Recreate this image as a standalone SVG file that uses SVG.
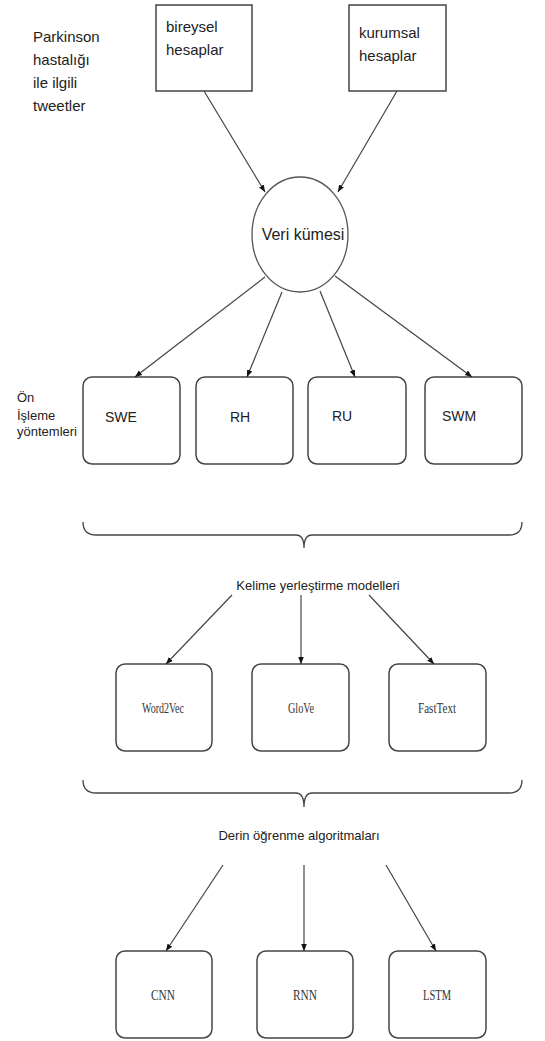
<svg xmlns="http://www.w3.org/2000/svg" width="545" height="1041" viewBox="0 0 545 1041">
<defs>
<marker id="ah" viewBox="0 0 10 10" refX="10" refY="5" markerWidth="7" markerHeight="7" orient="auto" markerUnits="userSpaceOnUse">
<path d="M0,1 L10,5 L0,9 z" fill="#111"/>
</marker>
<style>
.box{fill:#fff;stroke:#444;stroke-width:1.5}
.rbox{fill:#fff;stroke:#444;stroke-width:1.5}
.edge{stroke:#444;stroke-width:1.2;fill:none;marker-end:url(#ah)}
.brace{stroke:#444;stroke-width:1.3;fill:none}
.s{font-family:"Liberation Sans","Open Sans",sans-serif;fill:#222}
.t{font-family:"Liberation Serif","DejaVu Serif",serif;fill:#333;font-size:14px;text-anchor:middle}
</style>
</defs>
<rect width="545" height="1041" fill="#fff"/>
<g id="label-tweets">
<text class="s" font-size="15" x="33" y="42">Parkinson</text>
<text class="s" font-size="15" x="33" y="65">hastalığı</text>
<text class="s" font-size="15" x="33" y="88">ile ilgili</text>
<text class="s" font-size="15" x="33" y="111">tweetler</text>
</g>
<g id="node-bireysel">
<rect class="box" x="156" y="5" width="96" height="86"/>
<text class="s" font-size="15" x="166" y="32">bireysel</text>
<text class="s" font-size="15" x="166" y="55">hesaplar</text>
</g>
<g id="node-kurumsal">
<rect class="box" x="349" y="5" width="97" height="86"/>
<text class="s" font-size="15" x="359" y="38">kurumsal</text>
<text class="s" font-size="15" x="359" y="61">hesaplar</text>
</g>
<g id="node-veri">
<ellipse cx="300" cy="234.5" rx="48" ry="57.5" fill="#fff" stroke="#555" stroke-width="1.3"/>
<text class="s" font-size="16" x="303" y="240" text-anchor="middle">Veri kümesi</text>
</g>
<g id="label-onisleme">
<text class="s" font-size="13" x="17" y="402">Ön</text>
<text class="s" font-size="13" x="17" y="420">İşleme</text>
<text class="s" font-size="13" x="17" y="436">yöntemleri</text>
</g>
<g id="node-swe">
<rect class="rbox" x="83" y="377" width="97" height="87" rx="9"/>
<text class="s" font-size="14" x="105" y="422">SWE</text>
</g>
<g id="node-rh">
<rect class="rbox" x="196" y="377" width="97" height="87" rx="9"/>
<text class="s" font-size="14" x="230" y="422">RH</text>
</g>
<g id="node-ru">
<rect class="rbox" x="308" y="377" width="98" height="87" rx="9"/>
<text class="s" font-size="14" x="332" y="421">RU</text>
</g>
<g id="node-swm">
<rect class="rbox" x="425" y="377" width="97" height="87" rx="9"/>
<text class="s" font-size="14" x="442" y="421">SWM</text>
</g>
<g id="brace-1">
<path class="brace" d="M83,522 Q83,535 96,535 L296,535 Q304,535 304,548 Q304,535 312,535 L509,535 Q522,535 522,522"/>
</g>
<g id="label-kelime">
<text class="s" font-size="13" x="318" y="590" text-anchor="middle">Kelime yerleştirme modelleri</text>
</g>
<g id="node-word2vec">
<rect class="rbox" x="116" y="664" width="96" height="87" rx="9"/>
<text class="t" x="163" y="713" textLength="42" lengthAdjust="spacingAndGlyphs">Word2Vec</text>
</g>
<g id="node-glove">
<rect class="rbox" x="252" y="664" width="97" height="87" rx="9"/>
<text class="t" x="301" y="713" textLength="26" lengthAdjust="spacingAndGlyphs">GloVe</text>
</g>
<g id="node-fasttext">
<rect class="rbox" x="389" y="664" width="97" height="87" rx="9"/>
<text class="t" x="437" y="713" textLength="38" lengthAdjust="spacingAndGlyphs">FastText</text>
</g>
<g id="brace-2">
<path class="brace" d="M83,780 Q83,793 96,793 L296,793 Q304,793 304,807 Q304,793 312,793 L509,793 Q522,793 522,780"/>
</g>
<g id="label-derin">
<text class="s" font-size="13" x="299" y="840" text-anchor="middle">Derin öğrenme algoritmaları</text>
</g>
<g id="node-cnn">
<rect class="rbox" x="116" y="951" width="96" height="87" rx="9"/>
<text class="t" x="163" y="1000" textLength="24" lengthAdjust="spacingAndGlyphs">CNN</text>
</g>
<g id="node-rnn">
<rect class="rbox" x="257" y="951" width="96" height="87" rx="9"/>
<text class="t" x="305" y="1000" textLength="24" lengthAdjust="spacingAndGlyphs">RNN</text>
</g>
<g id="node-lstm">
<rect class="rbox" x="389" y="951" width="97" height="87" rx="9"/>
<text class="t" x="437" y="1000" textLength="28" lengthAdjust="spacingAndGlyphs">LSTM</text>
</g>
<g id="connectors">
<line class="edge" x1="204" y1="91" x2="265" y2="192"/>
<line class="edge" x1="397" y1="91" x2="338" y2="192"/>
<line class="edge" x1="265" y1="277" x2="135" y2="377"/>
<line class="edge" x1="282" y1="292" x2="247" y2="377"/>
<line class="edge" x1="320" y1="291" x2="355" y2="377"/>
<line class="edge" x1="335" y1="276" x2="472" y2="377"/>
<line class="edge" x1="232" y1="595" x2="166" y2="664"/>
<line class="edge" x1="301" y1="595" x2="301" y2="664"/>
<line class="edge" x1="369" y1="595" x2="434" y2="664"/>
<line class="edge" x1="223" y1="865" x2="166" y2="951"/>
<line class="edge" x1="304" y1="865" x2="304" y2="951"/>
<line class="edge" x1="386" y1="865" x2="436" y2="951"/>
</g>
</svg>
